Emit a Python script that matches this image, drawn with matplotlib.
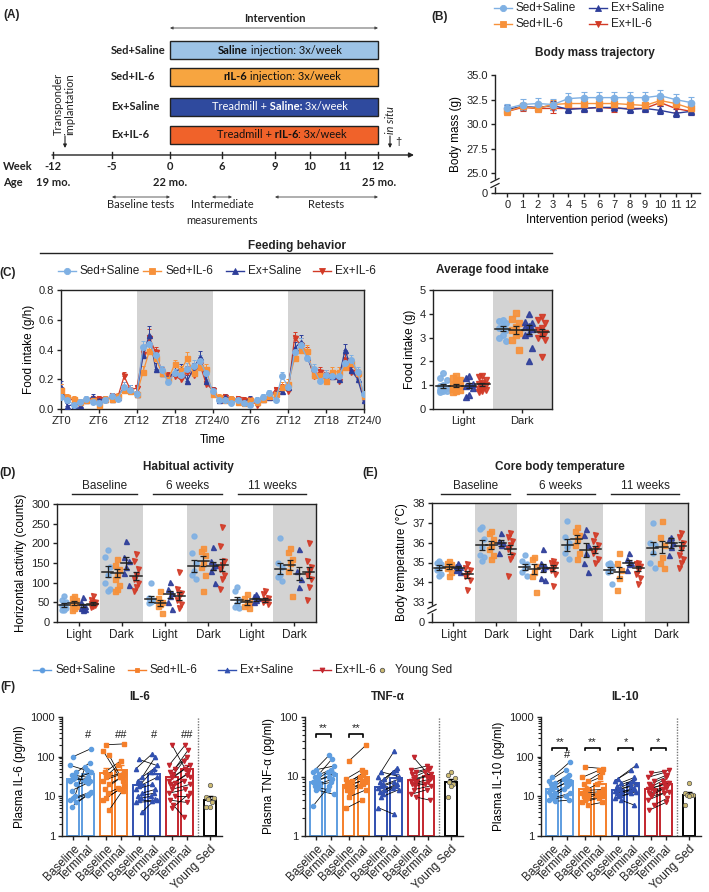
import numpy as np
import matplotlib
matplotlib.use("Agg")
import matplotlib.pyplot as plt
from matplotlib.patches import Rectangle
from matplotlib.ticker import FixedLocator, NullLocator, FuncFormatter, LogLocator, NullFormatter

plt.rcParams['font.family'] = ['Liberation Sans', 'DejaVu Sans']
plt.rcParams['font.size'] = 8
plt.rcParams['axes.linewidth'] = 1.0

# ------------------------------------------------------------------ data
groups = ['Sed+Saline', 'Sed+IL-6', 'Ex+Saline', 'Ex+IL-6']
colors = ['#7fb0e3', '#f7913a', '#2d3d99', '#d23a26']
f_colors = ['#5e9de0', '#f57f2a', '#3150b0', '#c3262e']
markers = ['o', 's', '^', 'v']
young_color = '#cdbb72'

# Panel A
box_groups = ['Sed+Saline', 'Sed+IL-6', 'Ex+Saline', 'Ex+IL-6']
box_texts = [[('Saline', True), (' injection: 3x/week', False)],
             [('rIL-6', True), (' injection: 3x/week', False)],
             [('Treadmill +', False), (' Saline:', True), (' 3x/week', False)],
             [('Treadmill +', False), (' rIL-6', True), (': 3x/week', False)]]
timeline_weeks = ['-12', '-5', '0', '6', '9', '10', '11', '12']
age_labels = ['19 mo.', '22 mo.', '25 mo.']

# Panel B: body mass (g), weeks 0..12
bm_weeks = list(range(13))
bm_ss = [31.6, 32.0, 32.1, 32.0, 32.6, 32.7, 32.7, 32.7, 32.7, 32.7, 32.9, 32.5, 32.2]
bm_si = [31.3, 31.8, 31.6, 32.0, 32.1, 32.1, 32.1, 32.1, 32.0, 31.9, 32.4, 32.1, 31.6]
bm_es = [31.5, 31.8, 31.7, 31.9, 31.5, 31.6, 31.7, 31.7, 31.5, 31.6, 31.4, 31.1, 31.3]
bm_ei = [31.3, 31.7, 31.6, 31.6, 31.6, 31.6, 31.7, 31.6, 31.6, 31.6, 32.2, 31.6, 31.3]
bm_sem_ss = [0.5, 0.6, 0.6, 0.6, 0.6, 0.6, 0.6, 0.6, 0.6, 0.6, 0.6, 0.6, 0.6]
bm_sem_other = [0.4, 0.4, 0.4, 0.5, 0.4, 0.4, 0.4, 0.4, 0.4, 0.4, 0.4, 0.4, 0.4]

# Panel C: hourly food intake (g/h), hours 0..48
fi_hours = list(range(49))
fi_ss = [0.08, 0.06, 0.03, 0.05, 0.07, 0.05, 0.04, 0.06, 0.09, 0.07, 0.15, 0.13,
         0.10, 0.42, 0.44, 0.36, 0.26, 0.18, 0.24, 0.23, 0.27, 0.29, 0.32, 0.24, 0.12,
         0.06, 0.06, 0.04, 0.06, 0.04, 0.03, 0.06, 0.08, 0.11, 0.06, 0.22, 0.15,
         0.38, 0.43, 0.34, 0.27, 0.19, 0.23, 0.22, 0.22, 0.31, 0.33, 0.25, 0.10]
fi_si = [0.13, 0.08, 0.07, 0.05, 0.06, 0.06, 0.03, 0.07, 0.07, 0.09, 0.13, 0.12,
         0.10, 0.25, 0.39, 0.34, 0.24, 0.20, 0.30, 0.26, 0.34, 0.24, 0.28, 0.27, 0.10,
         0.08, 0.06, 0.07, 0.05, 0.04, 0.06, 0.05, 0.07, 0.09, 0.10, 0.15, 0.17,
         0.34, 0.40, 0.39, 0.23, 0.23, 0.19, 0.25, 0.25, 0.28, 0.31, 0.24, 0.09]
fi_es = [0.15, 0.02, 0.03, 0.03, 0.06, 0.08, 0.06, 0.07, 0.07, 0.08, 0.15, 0.13,
         0.10, 0.36, 0.50, 0.27, 0.24, 0.21, 0.25, 0.27, 0.19, 0.27, 0.35, 0.19, 0.13,
         0.06, 0.08, 0.07, 0.06, 0.05, 0.07, 0.05, 0.07, 0.08, 0.11, 0.12, 0.15,
         0.41, 0.45, 0.35, 0.24, 0.23, 0.20, 0.22, 0.20, 0.40, 0.26, 0.20, 0.06]
fi_ei = [0.13, 0.07, 0.06, 0.04, 0.06, 0.07, 0.07, 0.06, 0.09, 0.08, 0.22, 0.13,
         0.14, 0.37, 0.48, 0.38, 0.25, 0.22, 0.22, 0.20, 0.25, 0.23, 0.30, 0.17, 0.13,
         0.07, 0.08, 0.06, 0.07, 0.06, 0.06, 0.03, 0.07, 0.08, 0.13, 0.14, 0.12,
         0.48, 0.43, 0.38, 0.22, 0.25, 0.23, 0.22, 0.19, 0.33, 0.25, 0.22, 0.09]
fi_sem = [0.04, 0.02, 0.02, 0.02, 0.02, 0.02, 0.02, 0.02, 0.02, 0.02, 0.03, 0.03,
          0.02, 0.04, 0.06, 0.04, 0.03, 0.03, 0.03, 0.03, 0.04, 0.04, 0.04, 0.03, 0.02,
          0.02, 0.02, 0.02, 0.02, 0.02, 0.02, 0.02, 0.02, 0.02, 0.02, 0.03, 0.03,
          0.04, 0.05, 0.04, 0.03, 0.03, 0.03, 0.03, 0.03, 0.04, 0.03, 0.03, 0.02]
zt_labels = ['ZT0', 'ZT6', 'ZT12', 'ZT18', 'ZT24/0', 'ZT6', 'ZT12', 'ZT18', 'ZT24/0']

# Panel C right: average food intake (g)
ld_labels = ['Light', 'Dark']
avg_light = [[1.5, 1.3, 1.2, 1.0, 0.95, 0.9, 0.85, 0.8, 0.75, 0.75, 0.7],
             [1.4, 1.3, 1.2, 1.1, 1.0, 0.95, 0.9, 0.85, 0.8, 0.75, 0.7],
             [1.4, 1.3, 1.05, 1.0, 0.95, 0.9, 0.6, 0.5],
             [1.4, 1.35, 1.2, 1.1, 1.05, 1.0, 0.9, 0.85, 0.8, 0.75, 0.7]]
avg_dark = [[3.75, 3.7, 3.6, 3.5, 3.4, 3.3, 3.1, 3.0, 2.85],
            [4.05, 3.8, 3.6, 3.45, 3.3, 3.2, 3.1, 2.9, 2.5],
            [4.0, 3.65, 3.6, 3.5, 3.45, 3.35, 3.2, 3.1, 2.55, 2.0],
            [3.85, 3.75, 3.6, 3.4, 3.3, 3.2, 3.1, 3.0, 2.9, 2.2]]
avg_means = [[0.97, 0.98, 0.98, 1.03], [3.38, 3.32, 3.33, 3.22]]
avg_sems = [[0.07, 0.07, 0.10, 0.07], [0.10, 0.15, 0.18, 0.15]]

# Panel D: horizontal activity (counts)
period_labels = ['Baseline', '6 weeks', '11 weeks']
cat_labels = ['Light', 'Dark', 'Light', 'Dark', 'Light', 'Dark']
act_base_light = [[65, 55, 50, 45, 40, 35, 30, 30], [65, 60, 55, 50, 45, 40, 35, 30],
                  [63, 50, 40, 35, 35, 32, 30], [65, 55, 50, 48, 45, 42, 40, 38]]
act_base_dark = [[183, 165, 140, 120, 100, 85, 80], [160, 145, 135, 120, 110, 95, 85, 80],
                 [205, 165, 155, 140, 125, 95], [172, 155, 135, 120, 110, 100, 90, 80]]
act_6w_light = [[100, 60, 55, 50, 48], [80, 60, 50, 45, 40, 22],
                [102, 85, 75, 65, 50, 33], [128, 85, 75, 65, 55, 45, 35]]
act_6w_dark = [[218, 175, 150, 130, 120, 110], [188, 180, 170, 150, 140, 120, 80],
               [190, 155, 145, 140, 130, 100], [242, 193, 155, 145, 135, 120, 110, 85]]
act_11w_light = [[90, 80, 55, 45, 38, 35], [70, 60, 50, 45, 40, 35],
                 [72, 65, 60, 55, 50], [78, 70, 60, 55, 50, 45]]
act_11w_dark = [[213, 150, 140, 120, 115, 105], [188, 178, 160, 150, 130, 65],
                [185, 130, 110, 90], [200, 155, 140, 130, 120, 110, 90, 55]]
act_means = [[44, 49, 42, 47], [128, 124, 150, 117], [58, 49, 70, 67],
             [143, 155, 142, 145], [56, 50, 58, 57], [136, 145, 123, 126]]
act_sems = [[5, 5, 5, 4], [14, 10, 14, 10], [8, 8, 9, 10],
            [15, 12, 10, 15], [8, 6, 4, 5], [15, 12, 16, 15]]

# Panel E: core body temperature (degC)
temp_base_light = [[35.1, 35.0, 34.9, 34.7, 34.6, 34.4, 34.3], [35.1, 35.0, 34.9, 34.8, 34.7, 34.5, 34.3],
                   [34.95, 34.8, 34.75, 34.7, 34.6, 34.5], [34.9, 34.7, 34.6, 34.4, 34.3, 34.1, 33.6]]
temp_base_dark = [[36.8, 36.7, 36.2, 35.8, 35.4, 35.3, 35.1], [36.6, 36.5, 36.2, 35.9, 35.7, 35.4, 35.2],
                  [36.5, 36.1, 36.0, 35.9, 35.5], [36.5, 36.3, 36.1, 35.9, 35.7, 35.4, 35.2, 34.3]]
temp_6w_light = [[35.4, 35.1, 34.9, 34.7, 34.5, 34.3], [35.3, 35.2, 34.8, 34.5, 34.3, 33.5],
                 [35.7, 35.0, 34.8, 34.7, 34.2, 34.1], [35.1, 35.0, 34.9, 34.7, 34.6, 34.4, 33.8]]
temp_6w_dark = [[37.1, 36.3, 36.0, 35.8, 35.5, 35.2], [36.8, 36.6, 36.4, 36.2, 35.9, 35.5, 35.2],
                [36.7, 36.4, 35.9, 35.5, 35.0, 34.5], [36.4, 36.1, 35.9, 35.7, 35.5, 35.2, 35.0]]
temp_11w_light = [[35.0, 34.9, 34.8, 34.6, 34.5, 33.9], [35.5, 35.0, 34.6, 34.2, 33.6],
                  [35.5, 35.2, 35.0, 34.9, 34.6], [35.0, 34.9, 34.8, 34.6, 34.4, 34.2, 33.9]]
temp_11w_dark = [[37.0, 36.0, 35.9, 35.5, 35.0, 34.7], [37.1, 36.3, 35.9, 35.3, 35.0, 34.7],
                 [36.3, 36.2, 36.0, 35.8, 35.4], [36.5, 36.3, 36.0, 35.7, 35.4, 35.2, 35.0, 34.7]]
temp_means = [[34.73, 34.78, 34.72, 34.40], [35.87, 35.88, 36.00, 35.67], [34.78, 34.65, 34.72, 34.72],
              [35.88, 36.18, 35.62, 35.67], [34.62, 34.50, 35.00, 34.70], [35.75, 35.80, 36.00, 35.82]]
temp_sems = [[0.12, 0.12, 0.08, 0.17], [0.25, 0.20, 0.15, 0.22], [0.15, 0.25, 0.22, 0.15],
             [0.30, 0.20, 0.35, 0.18], [0.15, 0.28, 0.15, 0.14], [0.30, 0.30, 0.25, 0.20]]

# Panel F: plasma cytokines (pg/ml), paired baseline -> terminal
f_tick_labels = ['Baseline', 'Terminal'] * 4 + ['Young Sed']
il6_base = [[100, 60, 40, 35, 30, 27, 25, 20, 14, 10, 9, 8, 7, 5.5],
            [200, 140, 110, 40, 35, 30, 25, 20, 15, 12, 9, 8, 4.5],
            [85, 50, 30, 25, 20, 18, 15, 12, 10, 9, 8, 7, 4],
            [200, 60, 50, 40, 35, 30, 25, 22, 20, 18, 15, 12, 10, 8, 6, 5]]
il6_term = [[160, 45, 70, 30, 25, 40, 28, 24, 22, 55, 13, 11, 12, 11],
            [210, 30, 25, 80, 60, 40, 35, 32, 30, 16, 18, 15, 14],
            [60, 120, 100, 50, 40, 30, 20, 15, 12, 10, 8, 7.5, 8.5],
            [30, 200, 150, 100, 80, 60, 50, 40, 35, 25, 20, 15, 10, 7, 3, 12]]
il6_bar_base = [28, 38, 19, 30]
il6_bar_term = [36, 45, 37, 48]
il6_err_base = [8, 15, 6, 12]
il6_err_term = [10, 15, 10, 15]
il6_young = [19, 9.5, 9, 8.5, 7, 5.5, 5.5]
il6_young_bar, il6_young_err = 8.2, 2.0
il6_marks = ['#', '##', '#', '##']

tnf_base = [[13, 12, 11, 10, 9, 8.5, 8, 7.5, 7, 6.5, 6, 3.2],
            [18, 9, 8.5, 8, 7.5, 7, 7, 6.5, 6, 5.5, 4.5, 2.9],
            [12, 10, 9, 8, 7.5, 7, 6.5, 6, 5.5, 5, 4.5, 3],
            [21, 13, 12, 11, 10, 9, 8.5, 8, 7.5, 7, 6, 5, 4.5]]
tnf_term = [[15, 23, 20, 13, 12, 11, 10, 9, 8, 6, 5, 7],
            [34, 13, 12, 11, 10, 9, 8.5, 8, 7.5, 7, 6, 4],
            [10, 27, 14, 13, 12, 9, 8, 7.5, 7, 6.5, 6, 2.3],
            [9.5, 15, 14, 13, 12, 11, 10, 9, 8, 7.5, 7, 6, 4]]
tnf_bar_base = [8.0, 7.2, 6.7, 8.8]
tnf_bar_term = [11.0, 10.0, 9.6, 10.3]
tnf_err_base = [0.8, 1.0, 0.7, 1.0]
tnf_err_term = [1.5, 2.0, 1.5, 0.8]
tnf_young = [12, 10.5, 9.5, 8, 7.5, 7, 4.5]
tnf_young_bar, tnf_young_err = 8.2, 1.0
tnf_sig = ['**', '**', '', '']

il10_base = [[30, 25, 22, 20, 17, 15, 13, 12, 11, 10, 9, 8, 7.5],
             [55, 30, 25, 20, 15, 14, 12, 11, 10, 9, 8, 7, 6],
             [28, 25, 22, 18, 16, 15, 14, 13, 12, 11, 10, 9, 8],
             [38, 30, 25, 20, 18, 16, 15, 14, 12, 11, 10, 8, 6, 4.5]]
il10_term = [[75, 45, 35, 30, 27, 25, 22, 20, 18, 15, 12, 10, 8],
             [50, 45, 40, 30, 20, 15, 13, 12, 12, 11, 10, 9, 7],
             [60, 45, 30, 25, 22, 20, 18, 16, 15, 14, 13, 12, 6],
             [45, 40, 35, 30, 25, 22, 20, 18, 16, 15, 13, 12, 9, 7]]
il10_bar_base = [15, 15, 14.5, 15]
il10_bar_term = [25, 21, 22, 21]
il10_err_base = [2, 3.5, 2, 2.5]
il10_err_term = [5, 4, 4, 3]
il10_young = [22, 12, 11, 11, 10.5, 10, 6]
il10_young_bar, il10_young_err = 11.0, 1.5
il10_sig = ['**', '**', '*', '*']
il10_marks = ['#', '', '', '']

# ------------------------------------------------------------------ figure
W, H = 709, 892
fig = plt.figure(figsize=(W / 100, H / 100), dpi=100)
INK = '#222222'
GRAY = '#d3d3d3'


def add_ax(l, t, r, b):
    return fig.add_axes([l / W, 1 - b / H, (r - l) / W, (b - t) / H])


def style(ax, box=False):
    for s in ['top', 'right']:
        ax.spines[s].set_visible(box)
    for s in ax.spines.values():
        s.set_color(INK)
        s.set_linewidth(1.0)
    ax.tick_params(colors=INK, labelcolor=INK, length=3, width=1, pad=2, labelsize=8)


ov = fig.add_axes([0, 0, 1, 1])
ov.set_xlim(0, W)
ov.set_ylim(H, 0)
ov.axis('off')
ov.set_zorder(20)


def T(x, y, s, **kw):
    kw.setdefault('va', 'center')
    kw.setdefault('ha', 'center')
    kw.setdefault('fontsize', 8)
    kw.setdefault('color', INK)
    return ov.text(x, y, s, **kw)


def dbl_arrow(x0, x1, y, lw=0.6):
    ov.annotate('', xy=(x0, y), xytext=(x1, y),
                arrowprops=dict(arrowstyle='<|-|>', lw=lw, color='#444444',
                                mutation_scale=4, shrinkA=0, shrinkB=0))


def leg_item(x, y, color, marker, label, line=True, ms=4.5, mec=None):
    if line:
        ov.plot([x - 9, x + 9], [y, y], color=color, lw=1)
    ov.plot([x], [y], marker=marker, color=color, ms=ms, mec=mec or color, mew=0.6)
    T(x + 13, y, label, ha='left', fontsize=8.5)


def brk(x, y):
    ov.add_patch(Rectangle((x - 2, y - 3), 4, 6, color='white', zorder=5))
    for dy in (-2.5, 2.5):
        ov.plot([x - 4, x + 4], [y + dy + 2, y + dy - 2], color=INK, lw=0.9, zorder=6)


# ------------------------------------------------------------------ Panel A
fa = dict(family=['Lato', 'DejaVu Sans'])
T(3, 15, '(A)', ha='left', fontweight='bold', fontsize=8.5)
T(275, 19, 'Intervention', fontweight='bold', **fa)
dbl_arrow(170, 378, 28)
box_face = ['#9dc3e6', '#f7a540', '#2f4a9e', '#f0622a']
box_tc = ['#111111', '#111111', 'white', '#111111']
box_top = [41, 68, 98, 126]
box_txt_x = [218, 223, 212, 217]
for i in range(4):
    ov.add_patch(Rectangle((170, box_top[i]), 208, 18, facecolor=box_face[i],
                           edgecolor='#222222', lw=1))
    T(111, box_top[i] + 9, box_groups[i], ha='left', fontweight='bold', **fa)
    prev = None
    for txt, bold in box_texts[i]:
        w = 'bold' if bold else 'normal'
        if prev is None:
            prev = ov.text(box_txt_x[i], box_top[i] + 9, txt, ha='left', va='center',
                           fontsize=8, fontweight=w, color=box_tc[i], **fa)
        else:
            prev = ov.annotate(txt, xy=(1, 0), xycoords=prev, ha='left', va='bottom',
                               fontsize=8, fontweight=w, color=box_tc[i], **fa)

week_px = [53, 112, 170, 222, 275, 310, 345, 378]
ov.annotate('', xy=(414, 155), xytext=(52, 155),
            arrowprops=dict(arrowstyle='-|>', lw=1, color=INK, mutation_scale=7,
                            shrinkA=0, shrinkB=0))
for xp, lab in zip(week_px, timeline_weeks):
    ov.plot([xp, xp], [152, 158], color=INK, lw=1)
    T(xp, 167, lab, fontweight='bold', **fa)
T(3, 167, 'Week', ha='left', fontweight='bold', **fa)
T(3, 183, 'Age', ha='left', fontweight='bold', **fa)
for xp, lab in zip([53, 170, 379], age_labels):
    T(xp, 183, lab, fontweight='bold', **fa)
dbl_arrow(112, 170, 197)
T(141, 205, 'Baseline tests', **fa)
dbl_arrow(212, 232, 197)
T(222, 205, 'Intermediate', **fa)
T(222, 220, 'measurements', **fa)
dbl_arrow(275, 378, 197)
T(326, 205, 'Retests', **fa)
T(64, 104, 'Transponder\nimplantation', rotation=90, linespacing=1.0, **fa)
ov.annotate('', xy=(65, 148), xytext=(65, 136),
            arrowprops=dict(arrowstyle='-|>', lw=0.8, color=INK, mutation_scale=5,
                            shrinkA=0, shrinkB=0))
T(391, 120, 'in situ', rotation=90, style='italic', **fa)
ov.annotate('', xy=(390, 148), xytext=(390, 136),
            arrowprops=dict(arrowstyle='-|>', lw=0.8, color=INK, mutation_scale=5,
                            shrinkA=0, shrinkB=0))
T(398, 142, '\u2020', fontsize=8)

# ------------------------------------------------------------------ Panel B
T(440, 17, '(B)', fontweight='bold', fontsize=8.5)
leg_item(503, 8, colors[0], markers[0], groups[0])
leg_item(598, 8, colors[2], markers[2], groups[2], ms=4)
leg_item(503, 24, colors[1], markers[1], groups[1], ms=4)
leg_item(598, 24, colors[3], markers[3], groups[3], ms=4)
T(595, 53, 'Body mass trajectory', fontweight='bold', fontsize=8.5)

axB = add_ax(495, 75, 700, 193)
style(axB)


def fwd_b(y):
    y = np.asarray(y, float)
    return np.where(y >= 25, y - 23, y * 2 / 25)


def inv_b(v):
    v = np.asarray(v, float)
    return np.where(v >= 2, v + 23, v * 25 / 2)


axB.set_yscale('function', functions=(fwd_b, inv_b))
bm_series = [bm_ss, bm_si, bm_es, bm_ei]
bm_sems = [bm_sem_ss, bm_sem_other, bm_sem_other, bm_sem_other]
for g in [3, 2, 1, 0]:
    axB.errorbar(bm_weeks, bm_series[g], yerr=bm_sems[g], color=colors[g], marker=markers[g],
                 ms=4.5 if g == 0 else 4, lw=1, elinewidth=0.8, capsize=2, capthick=0.8)
axB.set_ylim(0, 35)
axB.yaxis.set_major_locator(FixedLocator([0, 25, 27.5, 30, 32.5, 35]))
axB.yaxis.set_minor_locator(NullLocator())
axB.yaxis.set_major_formatter(FuncFormatter(lambda v, p: '0' if v == 0 else f'{v:.1f}'))
axB.set_xlim(-0.8, 12.6)
axB.set_xticks(bm_weeks)
axB.set_ylabel('Body mass (g)', fontsize=8.5, labelpad=3)
axB.set_xlabel('Intervention period (weeks)', fontsize=8.5, labelpad=3)
brk(495, 183)

# ------------------------------------------------------------------ Panel C
T(8, 273, '(C)', fontweight='bold', fontsize=8.5)
T(297, 246, 'Feeding behavior', fontweight='bold', fontsize=8.5)
ov.plot([40, 552], [253, 253], color=INK, lw=1)
leg_item(67, 271, colors[0], markers[0], groups[0])
leg_item(152, 271, colors[1], markers[1], groups[1], ms=4)
leg_item(235, 271, colors[2], markers[2], groups[2], ms=4)
leg_item(322, 271, colors[3], markers[3], groups[3], ms=4)

axC = add_ax(61, 290, 364, 409)
style(axC, box=True)
for s0 in (12, 36):
    axC.axvspan(s0, s0 + 12, color=GRAY, lw=0, zorder=0)
fi_series = [fi_ss, fi_si, fi_es, fi_ei]
zeros = np.zeros(len(fi_hours))
for g in [3, 2, 1, 0]:
    axC.errorbar(fi_hours, fi_series[g], yerr=[zeros, fi_sem], color=colors[g],
                 marker=markers[g], ms=4 if g == 0 else 3.6, lw=0.9, elinewidth=0.7,
                 capsize=1.5, capthick=0.7, zorder=3)
axC.set_xlim(0, 48)
axC.set_ylim(0, 0.8)
axC.set_xticks(range(0, 49, 6))
axC.set_xticklabels(zt_labels)
axC.set_yticks([0, 0.2, 0.4, 0.6, 0.8])
axC.yaxis.set_major_formatter(FuncFormatter(lambda v, p: f'{v:.1f}'))
axC.set_ylabel('Food intake (g/h)', fontsize=8.5, labelpad=3)
axC.set_xlabel('Time', fontsize=8.5, labelpad=6)

T(492, 270, 'Average food intake', fontweight='bold', fontsize=8.5)
axCr = add_ax(433, 290, 552, 409)
style(axCr, box=True)
axCr.axvspan(0.5, 1.5, color=GRAY, lw=0, zorder=0)
g_off = [-0.33, -0.11, 0.11, 0.33]
jit_pat = [0.0, -1.0, 1.0]


def scatter_cat(ax, ci, vals_by_group, means, sems, spread, mlen, ms):
    for g in range(4):
        vals = vals_by_group[g]
        xs = [ci + g_off[g] + jit_pat[i % 3] * spread for i in range(len(vals))]
        ax.plot(xs, vals, ls='none', marker=markers[g], color=colors[g], ms=ms,
                mec=colors[g], alpha=0.9, zorder=3)
        xc = ci + g_off[g]
        ax.plot([xc - mlen, xc + mlen], [means[g], means[g]], color=INK, lw=1.1, zorder=4)
        ax.errorbar([xc], [means[g]], yerr=[sems[g]], color=INK, lw=0.9, capsize=2,
                    capthick=0.9, zorder=4)


scatter_cat(axCr, 0, avg_light, avg_means[0], avg_sems[0], 0.06, 0.12, 4)
scatter_cat(axCr, 1, avg_dark, avg_means[1], avg_sems[1], 0.06, 0.12, 4)
axCr.set_xlim(-0.5, 1.5)
axCr.set_ylim(0, 5)
axCr.set_xticks([0, 1])
axCr.set_xticklabels(ld_labels)
axCr.set_yticks(range(6))
axCr.set_ylabel('Food intake (g)', fontsize=8.5, labelpad=3)

# ------------------------------------------------------------------ Panel D
T(8, 473, '(D)', fontweight='bold', fontsize=8.5)
T(188, 467, 'Habitual activity', fontweight='bold', fontsize=8.5)
for lab, x0, x1 in zip(period_labels, [72, 153, 238], [137, 222, 306]):
    T((x0 + x1) / 2, 486, lab, fontsize=8.5)
    ov.plot([x0, x1], [494, 494], color=INK, lw=1)

axD = add_ax(57, 504, 316, 622)
style(axD, box=True)
act_cats = [act_base_light, act_base_dark, act_6w_light, act_6w_dark, act_11w_light, act_11w_dark]
for c in (1, 3, 5):
    axD.axvspan(c - 0.5, c + 0.5, color=GRAY, lw=0, zorder=0)
for ci in range(6):
    scatter_cat(axD, ci, act_cats[ci], act_means[ci], act_sems[ci], 0.05, 0.13, 3.6)
axD.set_xlim(-0.5, 5.5)
axD.set_ylim(0, 300)
axD.set_xticks(range(6))
axD.set_xticklabels(cat_labels, fontsize=8.5)
axD.set_yticks(range(0, 301, 50))
axD.set_ylabel('Horizontal activity (counts)', fontsize=8.5, labelpad=3)

# ------------------------------------------------------------------ Panel E
T(370, 473, '(E)', fontweight='bold', fontsize=8.5)
T(560, 467, 'Core body temperature', fontweight='bold', fontsize=8.5)
for lab, x0, x1 in zip(period_labels, [441, 527, 611], [510, 595, 679]):
    T((x0 + x1) / 2, 486, lab, fontsize=8.5)
    ov.plot([x0, x1], [494, 494], color=INK, lw=1)

axE = add_ax(432, 503, 688, 622)
style(axE, box=True)


def fwd_e(y):
    y = np.asarray(y, float)
    return np.where(y >= 33, y - 32, y / 33)


def inv_e(v):
    v = np.asarray(v, float)
    return np.where(v >= 1, v + 32, v * 33)


axE.set_yscale('function', functions=(fwd_e, inv_e))
temp_cats = [temp_base_light, temp_base_dark, temp_6w_light, temp_6w_dark, temp_11w_light, temp_11w_dark]
for c in (1, 3, 5):
    axE.axvspan(c - 0.5, c + 0.5, color=GRAY, lw=0, zorder=0)
for ci in range(6):
    scatter_cat(axE, ci, temp_cats[ci], temp_means[ci], temp_sems[ci], 0.05, 0.13, 3.6)
axE.set_xlim(-0.5, 5.5)
axE.set_ylim(0, 38)
axE.yaxis.set_major_locator(FixedLocator([0, 33, 34, 35, 36, 37, 38]))
axE.yaxis.set_minor_locator(NullLocator())
axE.yaxis.set_major_formatter(FuncFormatter(lambda v, p: f'{v:.0f}'))
axE.set_xticks(range(6))
axE.set_xticklabels(cat_labels, fontsize=8.5)
axE.set_ylabel('Body temperature (\u00b0C)', fontsize=8.5, labelpad=3)
brk(432, 609)

# ------------------------------------------------------------------ Panel F
leg_item(42, 670, f_colors[0], markers[0], groups[0], ms=3.5)
leg_item(137, 670, f_colors[1], markers[1], groups[1], ms=3.5)
leg_item(227, 670, f_colors[2], markers[2], groups[2], ms=3.5)
leg_item(322, 670, f_colors[3], markers[3], groups[3], ms=3.5)
leg_item(382, 670, young_color, 'o', 'Young Sed', line=False, ms=3.2, mec='#555555')
T(8, 687, '(F)', fontweight='bold', fontsize=8.5)

pos_b = [0, 2.2, 4.4, 6.6]
pos_t = [1, 3.2, 5.4, 7.6]
young_x = 9.15
f_ticks = [0, 1, 2.2, 3.2, 4.4, 5.4, 6.6, 7.6, young_x]
jit_f = [0.0, -0.2, 0.2, -0.1, 0.1]


def panel_f(ax, base, term, bar_b, bar_t, err_b, err_t, young, ybar, yerr, ytop, ylabel):
    style(ax)
    ax.set_yscale('log')
    for g in range(4):
        c = f_colors[g]
        for x, h, e in ((pos_b[g], bar_b[g], err_b[g]), (pos_t[g], bar_t[g], err_t[g])):
            ax.bar([x], [h - 1], bottom=1, width=0.78, fill=False, edgecolor=c, lw=1.4, zorder=2)
            ax.errorbar([x], [h], yerr=[[0], [e]], color=c, lw=1, capsize=2, capthick=1, zorder=2)
        b, t = base[g], term[g]
        xb = [pos_b[g] + jit_f[i % 5] for i in range(len(b))]
        xt = [pos_t[g] + jit_f[(i + 2) % 5] for i in range(len(t))]
        for i in range(len(b)):
            ax.plot([xb[i], xt[i]], [b[i], t[i]], color='black', lw=0.55, zorder=3)
        ax.plot(xb, b, ls='none', marker=markers[g], color=c, ms=3, zorder=4)
        ax.plot(xt, t, ls='none', marker=markers[g], color=c, ms=3, zorder=4)
    ax.bar([young_x], [ybar - 1], bottom=1, width=0.78, fill=False, edgecolor='black', lw=1.4, zorder=2)
    ax.errorbar([young_x], [ybar], yerr=[[0], [yerr]], color='black', lw=1, capsize=2, zorder=2)
    xy = [young_x + jit_f[i % 5] * 1.2 for i in range(len(young))]
    ax.plot(xy, young, ls='none', marker='o', color=young_color, mec='#555555', mew=0.5,
            ms=3.2, zorder=4)
    ax.axvline(8.33, color='#777777', ls=(0, (1, 1)), lw=1)
    ax.set_xlim(-0.75, 9.95)
    ax.set_ylim(1, ytop)
    ax.yaxis.set_major_locator(LogLocator(base=10, numticks=10))
    ax.yaxis.set_major_formatter(FuncFormatter(lambda v, p: f'{v:g}'))
    ax.yaxis.set_minor_formatter(NullFormatter())
    ax.tick_params(axis='y', which='minor', length=2, width=0.8, color=INK)
    ax.set_xticks(f_ticks)
    ax.set_xticklabels(f_tick_labels, rotation=45, ha='right', rotation_mode='anchor', fontsize=8.5)
    ax.set_ylabel(ylabel, fontsize=8.5, labelpad=3)


def bracket(ax, g, y, s):
    ax.plot([pos_b[g], pos_b[g], pos_t[g], pos_t[g]], [y * 0.87, y, y, y * 0.87],
            color='black', lw=1.2, zorder=5)
    ax.text((pos_b[g] + pos_t[g]) / 2, y * 1.02, s, ha='center', va='bottom', fontsize=8,
            color=INK)


T(140, 697, 'IL-6', fontweight='bold', fontsize=8.5)
axF1 = add_ax(62, 717, 222, 836)
panel_f(axF1, il6_base, il6_term, il6_bar_base, il6_bar_term, il6_err_base, il6_err_term,
        il6_young, il6_young_bar, il6_young_err, 1000, 'Plasma IL-6 (pg/ml)')
for g in range(4):
    axF1.text(pos_t[g], 350, il6_marks[g], ha='center', va='center', fontsize=8, color=INK)

T(388, 697, 'TNF-\u03b1', fontweight='bold', fontsize=8.5)
axF2 = add_ax(305, 717, 463, 836)
panel_f(axF2, tnf_base, tnf_term, tnf_bar_base, tnf_bar_term, tnf_err_base, tnf_err_term,
        tnf_young, tnf_young_bar, tnf_young_err, 100, 'Plasma TNF-\u03b1 (pg/ml)')
for g in range(4):
    if tnf_sig[g]:
        bracket(axF2, g, 52, tnf_sig[g])

T(625, 697, 'IL-10', fontweight='bold', fontsize=8.5)
axF3 = add_ax(541, 717, 701, 836)
panel_f(axF3, il10_base, il10_term, il10_bar_base, il10_bar_term, il10_err_base, il10_err_term,
        il10_young, il10_young_bar, il10_young_err, 1000, 'Plasma IL-10 (pg/ml)')
for g in range(4):
    if il10_sig[g]:
        bracket(axF3, g, 170, il10_sig[g])
    if il10_marks[g]:
        axF3.text(pos_t[g], 108, il10_marks[g], ha='center', va='center', fontsize=8, color=INK)

fig.savefig('out.png', dpi=100)
